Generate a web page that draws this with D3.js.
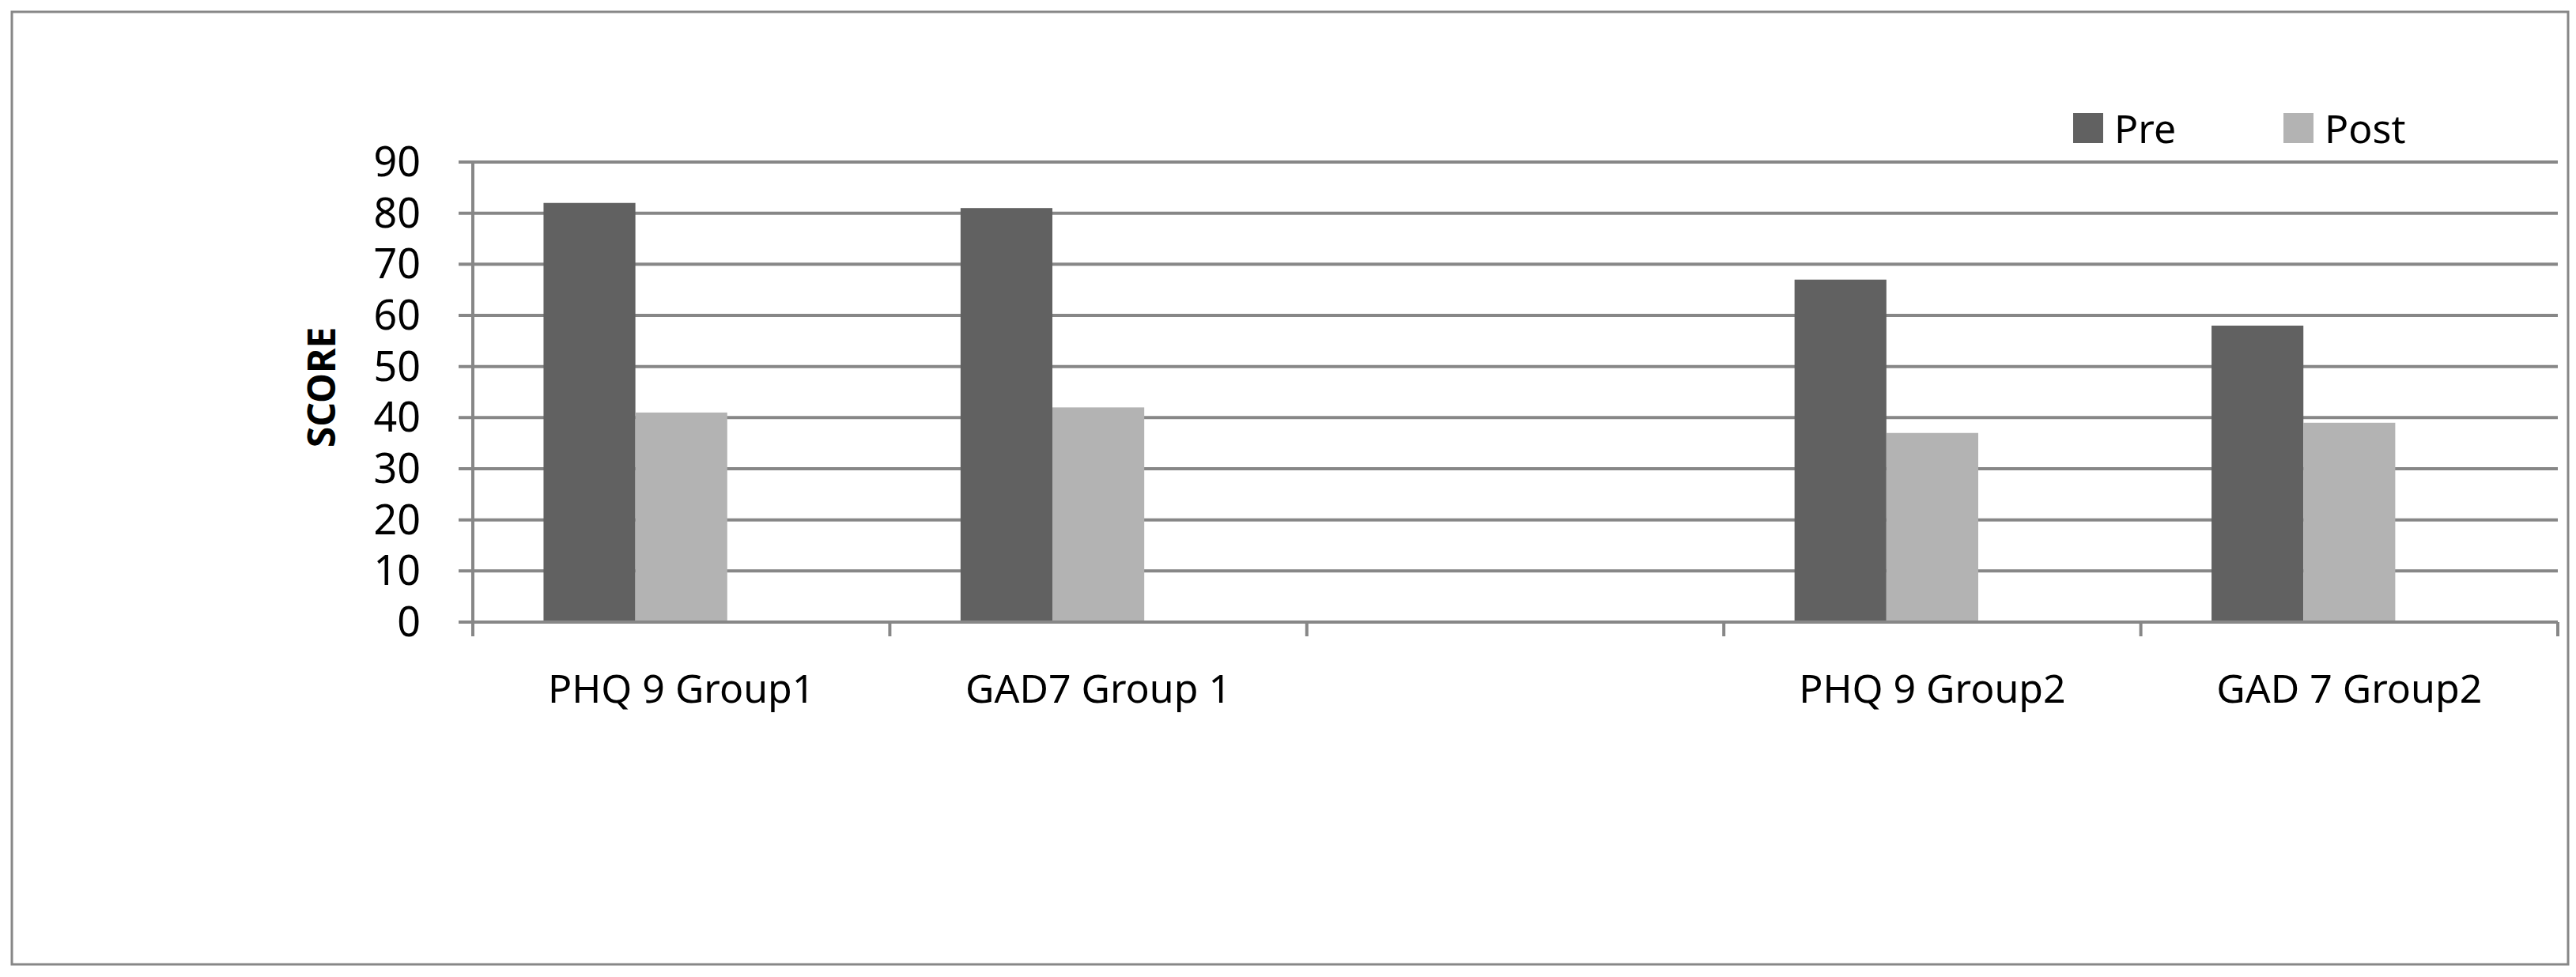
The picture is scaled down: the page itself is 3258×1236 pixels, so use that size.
<!DOCTYPE html>
<html><head><meta charset="utf-8">
<script src="https://cdn.jsdelivr.net/npm/d3@7"></script>
<style>body{margin:0;background:#fff}</style>
</head><body><svg id="chart" width="3258" height="1236"></svg>
<script>
// chart data
const categories = ["PHQ 9 Group1", "GAD7 Group 1", "", "PHQ 9 Group2", "GAD 7 Group2"]
const series = ["Pre", "Post", "blank"]
const preValues = [82, 81, null, 67, 58]
const postValues = [41, 42, null, 37, 39]
const yTicks = [0, 10, 20, 30, 40, 50, 60, 70, 80, 90]
const colors = {Pre: "#616161", Post: "#b3b3b3"}

const svg = d3.select("#chart")
const font = "'Noto Sans', sans-serif"
const grey = "#878787"

svg.append("rect").attr("x", 15).attr("y", 15).attr("width", 3233).attr("height", 1205)
	.attr("fill", "none").attr("stroke", grey).attr("stroke-width", 3)

let x0 = d3.scaleBand().domain(categories).range([598, 3235])
let x1 = d3.scaleBand().domain(series).range([0, x0.bandwidth()]).paddingOuter(0.77)
let y = d3.scaleLinear().domain([0, 90]).range([787, 205])

// grid lines
svg.append("g").selectAll("line").data(yTicks).join("line")
	.attr("x1", 580).attr("x2", 3235)
	.attr("y1", d => y(d)).attr("y2", d => y(d))
	.attr("stroke", grey).attr("stroke-width", 4)

svg.append("g").selectAll("text").data(yTicks).join("text")
	.attr("x", 532).attr("y", d => y(d) + 18)
	.attr("text-anchor", "end").attr("font-family", font).attr("font-size", 52)
	.text(d => d)

// axes lines
svg.append("line").attr("x1", 598).attr("x2", 598).attr("y1", 205).attr("y2", 805)
	.attr("stroke", grey).attr("stroke-width", 4)
let tickXs = categories.map(c => x0(c)).concat([x0.range()[1]])
svg.append("g").selectAll("line").data(tickXs).join("line")
	.attr("x1", d => d).attr("x2", d => d).attr("y1", 787).attr("y2", 805)
	.attr("stroke", grey).attr("stroke-width", 4)

// bars
let rows = categories.map((c, i) => ({c, Pre: preValues[i], Post: postValues[i]}))
let groups = svg.append("g").selectAll("g").data(rows).join("g")
	.attr("transform", d => `translate(${x0(d.c)},0)`)
groups.selectAll("rect").data(d => ["Pre", "Post"].filter(s => d[s] != null).map(s => ({s, v: d[s]})))
	.join("rect")
	.attr("x", d => x1(d.s)).attr("width", x1.bandwidth())
	.attr("y", d => y(d.v)).attr("height", d => y(0) - y(d.v) - 2)
	.attr("fill", d => colors[d.s])

// category labels
svg.append("g").selectAll("text").data(categories).join("text")
	.attr("x", d => x0(d) + x0.bandwidth() / 2).attr("y", 889)
	.attr("text-anchor", "middle").attr("font-family", font).attr("font-size", 50)
	.text(d => d)

// axis title
svg.append("text").attr("transform", "translate(424,490) rotate(-90)")
	.attr("text-anchor", "middle").attr("font-family", font).attr("font-size", 48).attr("font-weight", "bold")
	.text("SCORE")

// legend
let legend = svg.append("g").selectAll("g").data(["Pre", "Post"]).join("g")
	.attr("transform", (d, i) => `translate(${2622 + i * 266},143)`)
legend.append("rect").attr("width", 38).attr("height", 38).attr("fill", d => colors[d])
legend.append("text").attr("x", 52).attr("y", 38)
	.attr("font-family", font).attr("font-size", 50).text(d => d)
</script></body></html>
